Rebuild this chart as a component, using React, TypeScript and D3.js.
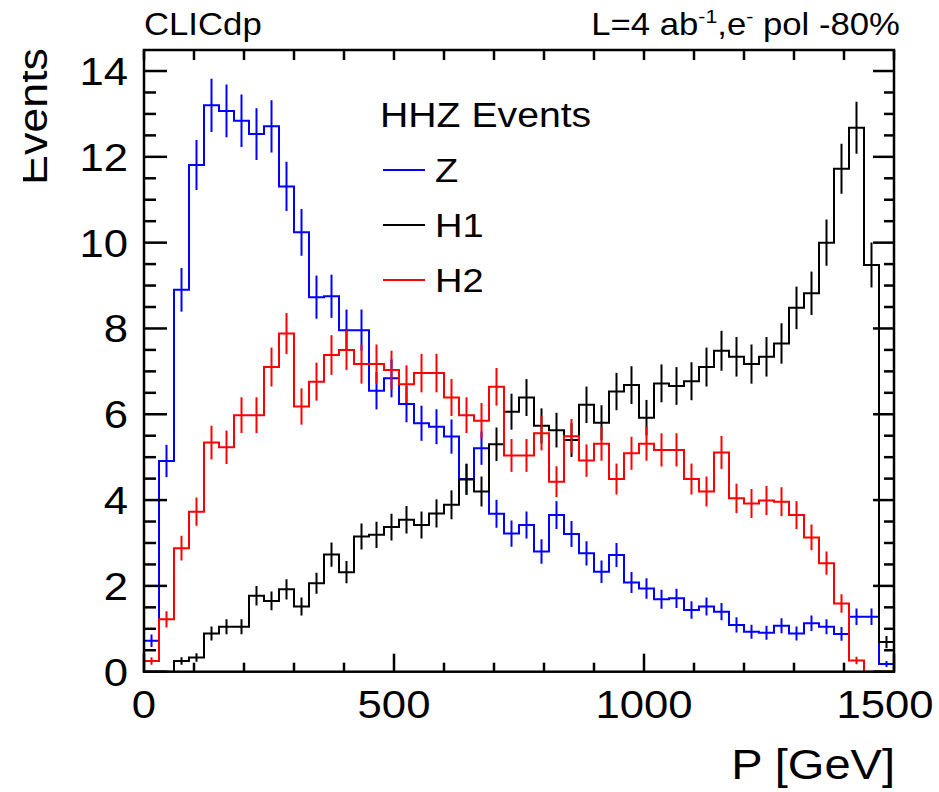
import React from "react";
import * as d3 from "d3";

// 50 bins of 30 GeV between 0 and 1500 GeV
const pRange = [0, 1500];
const nBins = 50;

const zEvents = [
  0.72, 4.91, 8.9, 11.81, 13.2, 13.07, 12.84, 12.53, 12.71, 11.31,
  10.24, 8.73, 8.75, 7.96, 7.96, 6.55, 6.84, 6.24, 5.79, 5.71,
  5.48, 4.49, 5.21, 3.68, 3.22, 3.42, 2.8, 3.65, 3.21, 2.76,
  2.33, 2.72, 2.08, 1.94, 1.69, 1.71, 1.44, 1.52, 1.4, 1.09,
  0.93, 0.91, 1.07, 0.89, 1.13, 1.05, 0.88, 1.28, 1.28, 0.18,
];
const h1Events = [
  0, 0, 0.25, 0.33, 0.89, 1.05, 1.05, 1.77, 1.65, 1.92,
  1.52, 2.06, 2.73, 2.32, 3.15, 3.19, 3.37, 3.54, 3.42, 3.69,
  3.89, 4.48, 4.2, 5.3, 6.06, 6.39, 5.73, 5.63, 5.4, 6.22,
  5.8, 6.53, 6.68, 5.92, 6.72, 6.66, 6.77, 7.1, 7.48, 7.34,
  7.17, 7.34, 7.65, 8.48, 8.82, 10.0, 11.72, 12.68, 9.48, 0.69,
];
const h2Events = [
  0.25, 1.22, 2.88, 3.73, 5.34, 5.23, 5.98, 5.98, 7.1, 7.88,
  6.18, 6.76, 7.38, 7.5, 7.17, 7.17, 7.03, 6.7, 6.96, 6.96,
  6.39, 5.98, 5.85, 6.64, 5.04, 5.04, 5.56, 4.43, 5.49, 4.92,
  5.31, 4.49, 5.09, 5.31, 5.17, 5.17, 4.49, 4.2, 5.11, 4.04,
  3.92, 3.99, 3.96, 3.65, 3.13, 2.53, 1.59, 0.26, 0, 0,
];
// weighted MC: error = sqrt(w * N), w
const eventWeight = 0.029;

const seriesNames = ["Z", "H1", "H2"];
const seriesColors = ["#0000ff", "#000000", "#ff0000"];
const seriesValues = [zEvents, h1Events, h2Events];

const xTickLabels = [0, 500, 1000, 1500];
const yTickLabels = [0, 2, 4, 6, 8, 10, 12, 14];

const width = 939;
const height = 792;
const frame = { left: 144, right: 894, top: 50, bottom: 671.7 };
const yMax = 14.49;
const font = "'Liberation Sans', Arial, Helvetica, sans-serif";
const stretch = 1.12;

const Label = ({ x, y, size, anchor = "start", rotate = 0, children }: any) => (
  <g transform={`translate(${x},${y}) rotate(${rotate})`}>
    <text transform={`scale(${stretch},1)`} fontSize={size} textAnchor={anchor} fontFamily={font} fill="#000">
      {children}
    </text>
  </g>
);

const App = () => {
  const x = d3.scaleLinear().domain(pRange).range([frame.left, frame.right]);
  const y = d3.scaleLinear().domain([0, yMax]).range([frame.bottom, frame.top]);
  const binW = (pRange[1] - pRange[0]) / nBins;
  const edges = d3.range(nBins + 1).map((i) => pRange[0] + i * binW);

  const stepLine = d3
    .line<[number, number]>()
    .x((d) => x(d[0]))
    .y((d) => y(d[1]))
    .curve(d3.curveStepAfter);

  const histPath = (vals: number[]) => {
    const pts: [number, number][] = [[edges[0], 0]];
    vals.forEach((v, i) => pts.push([edges[i], v]));
    pts.push([edges[nBins], vals[nBins - 1]]);
    pts.push([edges[nBins], 0]);
    return stepLine(pts);
  };

  const xMinor = x.ticks(15);
  const yMinor = y.ticks(30);

  return (
    <>
      <style>{`body{margin:0}`}</style>
      <svg width={width} height={height} style={{ display: "block", background: "#fff" }}>
        <defs>
          <clipPath id="plotClip">
            <rect x={frame.left} y={frame.top} width={frame.right - frame.left} height={frame.bottom - frame.top} />
          </clipPath>
          <clipPath id="ylabClip">
            <rect x={23} y={0} width={width} height={height} />
          </clipPath>
        </defs>

        {/* histograms */}
        <g clipPath="url(#plotClip)" fill="none" strokeWidth={2}>
          {seriesValues.map((vals, s) => (
            <g key={s} stroke={seriesColors[s]}>
              <path d={histPath(vals) || ""} />
              {vals.map((v, i) => {
                if (v <= 0) return null;
                const e = Math.sqrt(eventWeight * v);
                const cx = x(edges[i] + binW / 2);
                return <line key={i} x1={cx} x2={cx} y1={y(Math.max(0, v - e))} y2={y(v + e)} />;
              })}
            </g>
          ))}
        </g>

        {/* frame and ticks */}
        <g stroke="#000" strokeWidth={2.5} fill="none">
          <rect x={frame.left} y={frame.top} width={frame.right - frame.left} height={frame.bottom - frame.top} />
          {xMinor.map((t, i) => {
            const major = xTickLabels.includes(t);
            return (
              <g key={i}>
                <line x1={x(t)} x2={x(t)} y1={frame.bottom} y2={frame.bottom - (major ? 18 : 9)} />
                <line x1={x(t)} x2={x(t)} y1={frame.top} y2={frame.top + 10} />
              </g>
            );
          })}
          {yMinor.map((t, i) => {
            const major = yTickLabels.includes(t);
            return (
              <g key={i}>
                <line x1={frame.left} x2={frame.left + (major ? 23 : 12)} y1={y(t)} y2={y(t)} />
                <line x1={frame.right} x2={frame.right - (major ? 21 : 10)} y1={y(t)} y2={y(t)} />
              </g>
            );
          })}
        </g>

        {/* tick labels; the last one is pulled in so it stays on the canvas */}
        {xTickLabels.map((t, i) => (
          <Label key={t} x={x(t) - (i === xTickLabels.length - 1 ? 9 : 0)} y={718} size={39} anchor="middle">
            {t}
          </Label>
        ))}
        {yTickLabels.map((t) => (
          <Label key={t} x={128} y={y(t) + 14} size={39} anchor="end">
            {t}
          </Label>
        ))}

        {/* axis titles */}
        <Label x={895} y={779} size={42} anchor="end">
          P [GeV]
        </Label>
        <g clipPath="url(#ylabClip)">
          <Label x={47} y={48} size={40} anchor="end" rotate={-90}>
            Events
          </Label>
        </g>

        {/* header texts */}
        <Label x={144} y={35} size={31}>
          CLICdp
        </Label>
        <g transform="translate(900,35)">
          <text transform={`scale(${stretch},1)`} fontSize={31} textAnchor="end" fontFamily={font}>
            <tspan>L=4 ab</tspan>
            <tspan fontSize={19} dy={-12}>-1</tspan>
            <tspan dy={12}>,e</tspan>
            <tspan fontSize={19} dy={-12}>-</tspan>
            <tspan dy={12}> pol -80%</tspan>
          </text>
        </g>

        {/* legend */}
        <Label x={380} y={127} size={35}>
          HHZ Events
        </Label>
        {seriesNames.map((n, i) => {
          const ly = 170 + i * 55;
          return (
            <g key={n}>
              <line x1={383} x2={425} y1={ly} y2={ly} stroke={seriesColors[i]} strokeWidth={2} />
              <Label x={435} y={ly + 12} size={34}>
                {n}
              </Label>
            </g>
          );
        })}
      </svg>
    </>
  );
};

export default App;
